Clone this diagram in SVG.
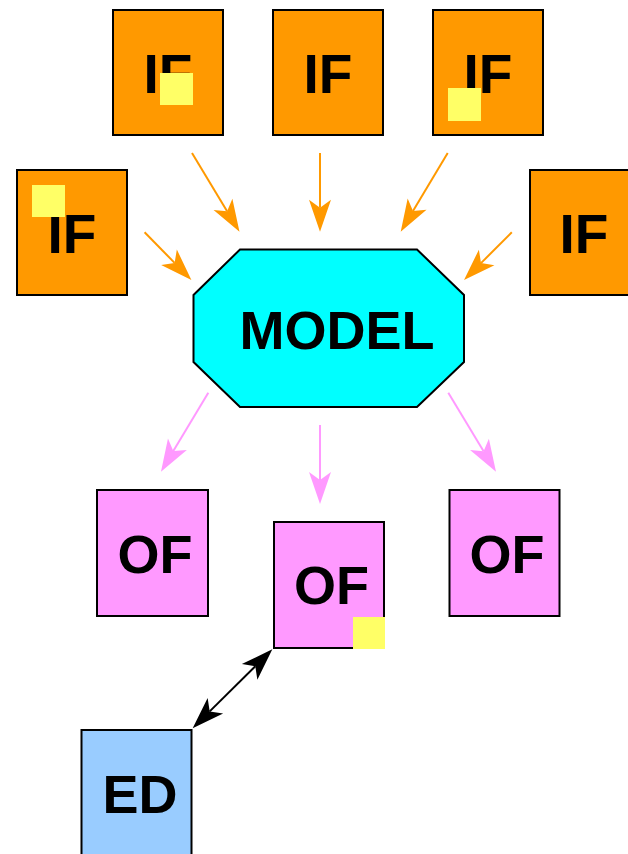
<svg xmlns="http://www.w3.org/2000/svg" width="628" height="854" viewBox="0 0 628 854">
  <style>
    .box { stroke: #000; stroke-width: 2; }
    .in { fill: #FF9900; }
    .out { fill: #FF99FF; }
    .ed { fill: #99CCFF; }
    .model { fill: #00FFFF; stroke: #000; stroke-width: 2; }
    .flag { fill: #FFFF66; }
    .lbl { font-family: "Liberation Sans", Arial, sans-serif; font-weight: bold; font-size: 54px; text-anchor: middle; fill: #000; }
    .lbl-if { font-size: 55px; }
    .c-in { stroke: #FF9900; stroke-width: 2; fill: none; marker-end: url(#head-in); }
    .c-out { stroke: #FF99FF; stroke-width: 2; fill: none; marker-end: url(#head-out); }
    .c-ed { stroke: #000; stroke-width: 2; fill: none; marker-start: url(#head-ed); marker-end: url(#head-ed); }
  </style>
  <defs>
    <marker id="head-in" markerUnits="userSpaceOnUse" orient="auto" overflow="visible" refX="0" refY="0">
      <path d="M24 0 L-8 -11 L0 0 L-8 11 Z" fill="#FF9900"/>
    </marker>
    <marker id="head-out" markerUnits="userSpaceOnUse" orient="auto" overflow="visible" refX="0" refY="0">
      <path d="M24 0 L-8 -11 L0 0 L-8 11 Z" fill="#FF99FF"/>
    </marker>
    <marker id="head-ed" markerUnits="userSpaceOnUse" orient="auto-start-reverse" overflow="visible" refX="0" refY="0">
      <path d="M24 0 L-8 -11 L0 0 L-8 11 Z" fill="#000"/>
    </marker>
  </defs>

  <!-- connectors -->
  <g id="connectors">
    <line class="c-in" x1="192" y1="153" x2="227.1" y2="211.2"/>
    <line class="c-in" x1="320" y1="153" x2="320" y2="207.7"/>
    <line class="c-in" x1="447.7" y1="153" x2="413" y2="211.1"/>
    <line class="c-in" x1="144.6" y1="232.3" x2="174.6" y2="262.9"/>
    <line class="c-in" x1="511.8" y1="232.3" x2="481" y2="263.1"/>
    <line class="c-out" x1="208.3" y1="392.7" x2="173.3" y2="451.1"/>
    <line class="c-out" x1="320" y1="425" x2="320" y2="480"/>
    <line class="c-out" x1="448.3" y1="392.7" x2="483.6" y2="451.2"/>
    <line class="c-ed" x1="209.7" y1="711.4" x2="255.3" y2="666.2"/>
  </g>

  <!-- input files -->
  <g id="if-top-left">
    <rect class="box in" x="113" y="10" width="110" height="125"/>
    <text class="lbl lbl-if" x="168" y="93">IF</text>
    <rect class="flag" x="160" y="73" width="33" height="32"/>
  </g>
  <g id="if-top-mid">
    <rect class="box in" x="273" y="10" width="110" height="125"/>
    <text class="lbl lbl-if" x="328" y="93">IF</text>
  </g>
  <g id="if-top-right">
    <rect class="box in" x="433" y="10" width="110" height="125"/>
    <text class="lbl lbl-if" x="488" y="93">IF</text>
    <rect class="flag" x="448" y="88" width="33" height="33"/>
  </g>
  <g id="if-left">
    <rect class="box in" x="17" y="170" width="110" height="125"/>
    <text class="lbl lbl-if" x="72" y="253">IF</text>
    <rect class="flag" x="32" y="185" width="33" height="32"/>
  </g>
  <g id="if-right">
    <rect class="box in" x="530" y="170" width="110" height="125"/>
    <text class="lbl lbl-if" x="584" y="253">IF</text>
  </g>

  <!-- model -->
  <g id="model">
    <polygon class="model" points="240,249.5 417,249.5 464,295 464,362 417,407 240,407 193.5,362 193.5,295"/>
    <text class="lbl" x="337" y="349">MODEL</text>
  </g>

  <!-- output files -->
  <g id="of-left">
    <rect class="box out" x="97" y="490" width="111" height="126"/>
    <text class="lbl" x="155" y="573">OF</text>
  </g>
  <g id="of-mid">
    <rect class="box out" x="274" y="522" width="110" height="126"/>
    <text class="lbl" x="331.5" y="604">OF</text>
    <rect class="flag" x="353" y="617" width="32" height="32"/>
  </g>
  <g id="of-right">
    <rect class="box out" x="449.5" y="490" width="110" height="126"/>
    <text class="lbl" x="507" y="573">OF</text>
  </g>

  <!-- external data -->
  <g id="ed">
    <rect class="box ed" x="81.5" y="730" width="110" height="130"/>
    <text class="lbl" x="140" y="813">ED</text>
  </g>
</svg>
